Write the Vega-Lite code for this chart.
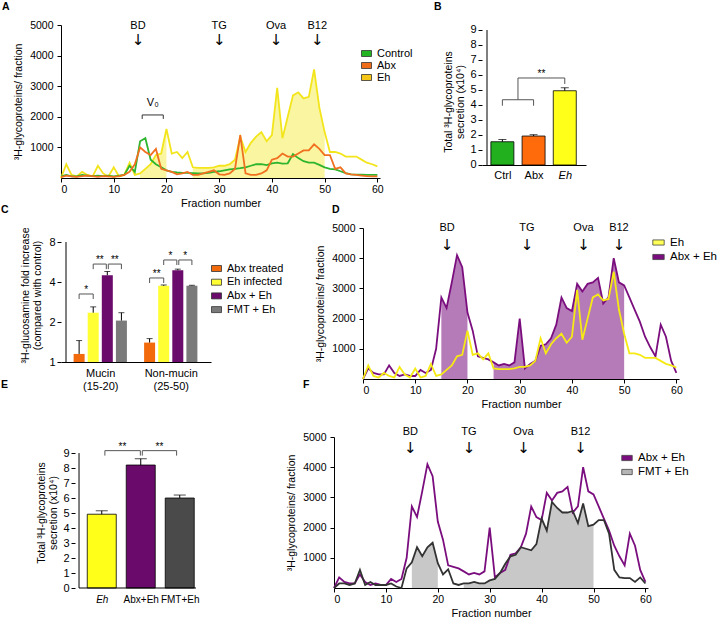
{
"$schema": "https://vega.github.io/schema/vega-lite/v6.json",
"padding": {"left": 1, "top": 2, "right": 0, "bottom": 0},
"background": "white",
"config": {
  "font": "Liberation Sans",
  "view": {"stroke": null},
  "axis": {"grid": false, "domainColor": "#000", "tickColor": "#000", "labelColor": "#000", "titleColor": "#000", "labelFontSize": 10.5, "titleFontSize": 10.5, "titleFontWeight": "normal", "tickSize": 4, "labelPadding": 2, "titlePadding": 5, "labelOverlap": false},
  "legend": {"labelFontSize": 11, "labelColor": "#000", "padding": 0, "labelOffset": 5, "rowPadding": 2},
  "title": {"fontSize": 10.5, "fontWeight": "bold", "anchor": "start", "frame": "group", "color": "#000"}
},
"datasets": {
  "prof": [
    {"f":0,"Control":50,"Abx":30,"Eh":0,"AbxEh":0,"FMTEh":0},
    {"f":1,"Control":100,"Abx":80,"Eh":450,"AbxEh":350,"FMTEh":150},
    {"f":2,"Control":50,"Abx":50,"Eh":100,"AbxEh":200,"FMTEh":150},
    {"f":3,"Control":50,"Abx":40,"Eh":50,"AbxEh":150,"FMTEh":100},
    {"f":4,"Control":100,"Abx":60,"Eh":200,"AbxEh":150,"FMTEh":150},
    {"f":5,"Control":80,"Abx":80,"Eh":100,"AbxEh":450,"FMTEh":600},
    {"f":6,"Control":60,"Abx":60,"Eh":50,"AbxEh":200,"FMTEh":100},
    {"f":7,"Control":80,"Abx":40,"Eh":400,"AbxEh":100,"FMTEh":200},
    {"f":8,"Control":60,"Abx":60,"Eh":150,"AbxEh":150,"FMTEh":100},
    {"f":9,"Control":80,"Abx":50,"Eh":50,"AbxEh":100,"FMTEh":100},
    {"f":10,"Control":50,"Abx":40,"Eh":350,"AbxEh":100,"FMTEh":100},
    {"f":11,"Control":80,"Abx":60,"Eh":50,"AbxEh":300,"FMTEh":150},
    {"f":12,"Control":100,"Abx":100,"Eh":100,"AbxEh":200,"FMTEh":50},
    {"f":13,"Control":400,"Abx":200,"Eh":500,"AbxEh":300,"FMTEh":0},
    {"f":14,"Control":200,"Abx":450,"Eh":100,"AbxEh":1000,"FMTEh":650},
    {"f":15,"Control":1200,"Abx":1000,"Eh":150,"AbxEh":2700,"FMTEh":850},
    {"f":16,"Control":1300,"Abx":850,"Eh":300,"AbxEh":2350,"FMTEh":1350},
    {"f":17,"Control":600,"Abx":750,"Eh":450,"AbxEh":3200,"FMTEh":1050},
    {"f":18,"Control":450,"Abx":950,"Eh":750,"AbxEh":4100,"FMTEh":1350},
    {"f":19,"Control":350,"Abx":300,"Eh":800,"AbxEh":3700,"FMTEh":1500},
    {"f":20,"Control":250,"Abx":250,"Eh":1600,"AbxEh":2200,"FMTEh":820},
    {"f":21,"Control":200,"Abx":200,"Eh":800,"AbxEh":1600,"FMTEh":450},
    {"f":22,"Control":180,"Abx":120,"Eh":850,"AbxEh":750,"FMTEh":620},
    {"f":23,"Control":170,"Abx":150,"Eh":650,"AbxEh":700,"FMTEh":150},
    {"f":24,"Control":170,"Abx":200,"Eh":850,"AbxEh":650,"FMTEh":100},
    {"f":25,"Control":160,"Abx":100,"Eh":350,"AbxEh":550,"FMTEh":150},
    {"f":26,"Control":150,"Abx":100,"Eh":330,"AbxEh":450,"FMTEh":150},
    {"f":27,"Control":150,"Abx":150,"Eh":330,"AbxEh":500,"FMTEh":200},
    {"f":28,"Control":170,"Abx":200,"Eh":330,"AbxEh":450,"FMTEh":150},
    {"f":29,"Control":200,"Abx":250,"Eh":350,"AbxEh":550,"FMTEh":150},
    {"f":30,"Control":220,"Abx":120,"Eh":400,"AbxEh":2000,"FMTEh":250},
    {"f":31,"Control":250,"Abx":100,"Eh":400,"AbxEh":350,"FMTEh":300},
    {"f":32,"Control":280,"Abx":150,"Eh":450,"AbxEh":500,"FMTEh":500},
    {"f":33,"Control":300,"Abx":300,"Eh":600,"AbxEh":600,"FMTEh":800},
    {"f":34,"Control":320,"Abx":1400,"Eh":1350,"AbxEh":1100,"FMTEh":1050},
    {"f":35,"Control":350,"Abx":150,"Eh":850,"AbxEh":1150,"FMTEh":1100},
    {"f":36,"Control":400,"Abx":100,"Eh":1150,"AbxEh":1350,"FMTEh":1350},
    {"f":37,"Control":450,"Abx":100,"Eh":1350,"AbxEh":1800,"FMTEh":1300},
    {"f":38,"Control":450,"Abx":150,"Eh":1500,"AbxEh":2700,"FMTEh":1250},
    {"f":39,"Control":420,"Abx":250,"Eh":1200,"AbxEh":2350,"FMTEh":1450},
    {"f":40,"Control":480,"Abx":600,"Eh":1400,"AbxEh":2250,"FMTEh":2300},
    {"f":41,"Control":500,"Abx":650,"Eh":2950,"AbxEh":3150,"FMTEh":1900},
    {"f":42,"Control":470,"Abx":800,"Eh":1300,"AbxEh":2900,"FMTEh":2850},
    {"f":43,"Control":480,"Abx":700,"Eh":2000,"AbxEh":3150,"FMTEh":2650},
    {"f":44,"Control":780,"Abx":700,"Eh":2700,"AbxEh":3200,"FMTEh":2500},
    {"f":45,"Control":650,"Abx":800,"Eh":2800,"AbxEh":3350,"FMTEh":2500},
    {"f":46,"Control":550,"Abx":900,"Eh":2600,"AbxEh":2500,"FMTEh":2550},
    {"f":47,"Control":500,"Abx":900,"Eh":2650,"AbxEh":2700,"FMTEh":2150},
    {"f":48,"Control":500,"Abx":1100,"Eh":3550,"AbxEh":4000,"FMTEh":2800},
    {"f":49,"Control":430,"Abx":950,"Eh":2300,"AbxEh":3200,"FMTEh":2050},
    {"f":50,"Control":350,"Abx":750,"Eh":1500,"AbxEh":3100,"FMTEh":2100},
    {"f":51,"Control":300,"Abx":750,"Eh":850,"AbxEh":2700,"FMTEh":2250},
    {"f":52,"Control":280,"Abx":300,"Eh":850,"AbxEh":2300,"FMTEh":2250},
    {"f":53,"Control":220,"Abx":350,"Eh":800,"AbxEh":1900,"FMTEh":1800},
    {"f":54,"Control":160,"Abx":150,"Eh":700,"AbxEh":1400,"FMTEh":600},
    {"f":55,"Control":120,"Abx":120,"Eh":700,"AbxEh":1050,"FMTEh":350},
    {"f":56,"Control":110,"Abx":100,"Eh":700,"AbxEh":750,"FMTEh":330},
    {"f":57,"Control":110,"Abx":80,"Eh":600,"AbxEh":1800,"FMTEh":330},
    {"f":58,"Control":100,"Abx":60,"Eh":500,"AbxEh":1400,"FMTEh":200},
    {"f":59,"Control":100,"Abx":50,"Eh":450,"AbxEh":600,"FMTEh":350},
    {"f":60,"Control":100,"Abx":50,"Eh":380,"AbxEh":200,"FMTEh":150}
  ],
  "annA": [{"lab": "BD", "f": 14.6, "yl": 4970, "ya": 4500}, {"lab": "TG", "f": 30, "yl": 4970, "ya": 4500}, {"lab": "Ova", "f": 40.8, "yl": 4970, "ya": 4500}, {"lab": "B12", "f": 48.6, "yl": 4970, "ya": 4500}],
  "annD": [{"lab": "BD", "f": 16.1, "yl": 5000, "ya": 4450}, {"lab": "TG", "f": 31.4, "yl": 5000, "ya": 4450}, {"lab": "Ova", "f": 42.2, "yl": 5000, "ya": 4450}, {"lab": "B12", "f": 49, "yl": 5000, "ya": 4450}],
  "annF": [{"lab": "BD", "f": 14.7, "yl": 5150, "ya": 4620}, {"lab": "TG", "f": 26, "yl": 5150, "ya": 4620}, {"lab": "Ova", "f": 36.5, "yl": 5150, "ya": 4620}, {"lab": "B12", "f": 47.5, "yl": 5150, "ya": 4620}],
  "barB": [
    {"g":"Ctrl","p":1,"v":1.55,"hi":1.7},
    {"g":"Abx","p":2,"v":1.93,"hi":2.02},
    {"g":"Eh","p":3,"v":4.95,"hi":5.15}
  ],
  "barC": [
    {"grp":"Mucin","t":"Abx treated","p":1,"v":1.15,"hi":1.45},
    {"grp":"Mucin","t":"Eh infected","p":2,"v":2.35,"hi":2.6},
    {"grp":"Mucin","t":"Abx + Eh","p":3,"v":4.5,"hi":4.8},
    {"grp":"Mucin","t":"FMT + Eh","p":4,"v":2.05,"hi":2.35},
    {"grp":"Non-mucin","t":"Abx treated","p":6,"v":1.4,"hi":1.5},
    {"grp":"Non-mucin","t":"Eh infected","p":7,"v":3.75,"hi":3.8},
    {"grp":"Non-mucin","t":"Abx + Eh","p":8,"v":4.9,"hi":5.0},
    {"grp":"Non-mucin","t":"FMT + Eh","p":9,"v":3.75,"hi":3.78}
  ],
  "barE": [
    {"g":"Eh","p":1,"v":4.92,"hi":5.15},
    {"g":"Abx+Eh","p":2,"v":8.2,"hi":8.62},
    {"g":"FMT+Eh","p":3,"v":6.0,"hi":6.2}
  ]
},
"align": "none",
"spacing": -4,
"resolve": {"scale": {"color": "independent", "fill": "independent"}},
"vconcat": [
  {
    "hconcat": [
      {
        "width": 319, "height": 153,
        "title": {"text": "A", "dx": -59, "offset": 7},
        "layer": [
          {"data": {"name": "prof"}, "transform": [{"filter": "datum.f >= 15 && datum.f <= 20"}],
           "mark": {"type": "area", "color": "#faf5a0"},
           "encoding": {
             "x": {"field": "f", "type": "quantitative", "scale": {"domain": [0, 60.5], "nice": false, "zero": false}, "axis": {"values": [0,10,20,30,40,50,60], "tickCount": 20, "labelOverlap": false, "title": "Fraction number", "titleFontSize": 11, "titlePadding": 3}},
             "y": {"field": "Eh", "type": "quantitative", "scale": {"domain": [0, 5000], "nice": false}, "axis": {"values": [1000,2000,3000,4000,5000], "tickCount": 20, "labelOverlap": false, "labelPadding": 4, "format": "d", "title": "³H-glycoproteins/ fraction", "titlePadding": 6}}
           }},
          {"data": {"name": "prof"}, "transform": [{"filter": "datum.f >= 25 && datum.f <= 50"}],
           "mark": {"type": "area", "color": "#faf5a0"},
           "encoding": {"x": {"field": "f", "type": "quantitative"}, "y": {"field": "Eh", "type": "quantitative"}}},
          {"data": {"name": "prof"}, "mark": {"type": "line", "color": "#f3e51b", "strokeWidth": 1.8},
           "encoding": {"x": {"field": "f", "type": "quantitative"}, "y": {"field": "Eh", "type": "quantitative"}}},
          {"data": {"name": "prof"}, "mark": {"type": "line", "color": "#2db52d", "strokeWidth": 1.8},
           "encoding": {"x": {"field": "f", "type": "quantitative"}, "y": {"field": "Control", "type": "quantitative"}}},
          {"data": {"name": "prof"}, "mark": {"type": "line", "color": "#f07020", "strokeWidth": 1.8},
           "encoding": {"x": {"field": "f", "type": "quantitative"}, "y": {"field": "Abx", "type": "quantitative"}}},
          {"data": {"name": "prof"}, "transform": [{"filter": "false"}], "mark": {"type": "square", "filled": true},
           "encoding": {"x": {"field": "f", "type": "quantitative"}, "y": {"field": "Eh", "type": "quantitative"},
             "fill": {"field": "series", "type": "nominal", "scale": {"domain": ["Control", "Abx", "Eh"], "range": ["#22b422", "#ef6c1a", "#f5c518"]},
               "legend": {"title": null, "orient": "none", "legendX": 300, "legendY": 23, "symbolType": "M-1,-0.6H1V0.6H-1Z", "symbolSize": 100, "symbolStrokeColor": "#333", "symbolStrokeWidth": 0.8, "symbolOpacity": 1, "rowPadding": 0,
                 "encode": {"labels": {"fontStyle": {"condition": {"test": "datum.value === 'Eh'", "value": "italic"}, "value": "normal"}}}}}}},
          {"data": {"values": [{"x": 15.4, "x2": 19.4, "y": 2060, "y2": 2060}, {"x": 15.4, "x2": 15.4, "y": 1930, "y2": 2060}, {"x": 19.4, "x2": 19.4, "y": 1930, "y2": 2060}]},
           "mark": {"type": "rule", "color": "#333", "strokeWidth": 1},
           "encoding": {"x": {"field": "x", "type": "quantitative"}, "x2": {"field": "x2"}, "y": {"field": "y", "type": "quantitative"}, "y2": {"field": "y2"}}},
          {"data": {"values": [{"t": "V₀", "x": 17.4, "y": 2450}]},
           "mark": {"type": "text", "fontSize": 11, "color": "#000"},
           "encoding": {"x": {"field": "x", "type": "quantitative"}, "y": {"field": "y", "type": "quantitative"}, "text": {"field": "t"}}},
          {"data": {"name": "annA"},
           "mark": {"type": "text", "fontSize": 11, "color": "#000"}, "encoding": {"x": {"field": "f", "type": "quantitative"}, "y": {"field": "yl", "type": "quantitative"}, "text": {"field": "lab"}}},
          {"data": {"name": "annA"},
           "mark": {"type": "text", "fontSize": 15, "font": "DejaVu Sans", "color": "#000"}, "encoding": {"x": {"field": "f", "type": "quantitative"}, "y": {"field": "ya", "type": "quantitative"}, "text": {"value": "↓"}}}
        ]
      },
      {
        "width": 104, "height": 153,
        "title": {"text": "B", "dx": -48, "offset": 7},
        "data": {"name": "barB"},
        "layer": [
          {"mark": {"type": "bar", "size": 23, "stroke": "#000", "strokeWidth": 0.8},
           "encoding": {
             "x": {"field": "p", "type": "quantitative", "scale": {"domain": [0.507, 3.52], "nice": false, "zero": false}, "axis": {"values": [1, 2, 3], "tickCount": 20, "offset": -13, "labelOverlap": false, "labelExpr": "datum.value == 1 ? 'Ctrl' : datum.value == 2 ? 'Abx' : 'Eh'", "labelFontStyle": {"condition": {"test": "datum.value == 3", "value": "italic"}, "value": "normal"}, "ticks": false, "title": null, "labelFontSize": 11, "labelPadding": 4}},
             "y": {"field": "v", "type": "quantitative", "scale": {"domain": [-0.867, 9.333], "nice": false, "zero": false}, "axis": {"values": [0,1,2,3,4,5,6,7,8,9], "format": "d", "tickCount": 20, "labelOverlap": false, "labelFontSize": 11, "domain": false, "title": ["Total ³H-glycoproteins", "secretion (x10⁴)"], "titlePadding": 4}},
             "y2": {"datum": 0},
             "color": {"field": "g", "type": "nominal", "scale": {"domain": ["Ctrl", "Abx", "Eh"], "range": ["#22b01f", "#ff6a0a", "#ffff1a"]}, "legend": null}
           }},
          {"mark": {"type": "rule", "color": "#000"},
           "encoding": {"x": {"field": "p", "type": "quantitative"}, "y": {"field": "v", "type": "quantitative"}, "y2": {"field": "hi"}}},
          {"mark": {"type": "tick", "orient": "horizontal", "size": 8, "thickness": 1, "color": "#000"},
           "encoding": {"x": {"field": "p", "type": "quantitative"}, "y": {"field": "hi", "type": "quantitative"}}},
          {"data": {"values": [{"x": 0.507, "x2": 0.507, "y": 0, "y2": 9}]},
           "mark": {"type": "rule", "color": "#000", "strokeWidth": 1},
           "encoding": {"x": {"field": "x", "type": "quantitative"}, "x2": {"field": "x2"}, "y": {"field": "y", "type": "quantitative"}, "y2": {"field": "y2"}}},
          {"data": {"values": [{"x": 1, "x2": 2, "y": 4.35, "y2": 4.35}, {"x": 1, "x2": 1, "y": 3.95, "y2": 4.35}, {"x": 2, "x2": 2, "y": 3.95, "y2": 4.35}, {"x": 1.5, "x2": 1.5, "y": 4.35, "y2": 5.8}, {"x": 1.5, "x2": 3, "y": 5.8, "y2": 5.8}, {"x": 3, "x2": 3, "y": 5.4, "y2": 5.8}]},
           "mark": {"type": "rule", "color": "#555", "strokeWidth": 1},
           "encoding": {"x": {"field": "x", "type": "quantitative"}, "x2": {"field": "x2"}, "y": {"field": "y", "type": "quantitative"}, "y2": {"field": "y2"}}},
          {"data": {"values": [{"t": "**", "x": 2.25, "y": 5.8}]},
           "mark": {"type": "text", "fontSize": 10, "dy": -1, "baseline": "alphabetic", "color": "#000"},
           "encoding": {"x": {"field": "x", "type": "quantitative"}, "y": {"field": "y", "type": "quantitative"}, "text": {"field": "t"}}},
          {"data": {"values": [{"t": "BD", "x": 2, "y": 9.27}]},
           "mark": {"type": "text", "fontSize": 11, "opacity": 0},
           "encoding": {"x": {"field": "x", "type": "quantitative"}, "y": {"field": "y", "type": "quantitative"}, "text": {"field": "t"}}}
        ]
      }
    ],
    "spacing": 21, "align": "none",
    "resolve": {"scale": {"color": "independent", "fill": "independent"}}
  },
  {
    "vconcat": [
  {
    "hconcat": [
      {
        "width": 150, "height": 134,
        "title": {"text": "C", "dx": -60, "offset": 6.5},
        "data": {"name": "barC"},
        "layer": [
          {"mark": {"type": "bar", "size": 11},
           "encoding": {
             "x": {"field": "p", "type": "quantitative", "scale": {"domain": [0.07, 10], "nice": false, "zero": false}, "axis": {"values": [2.5, 7.5], "tickCount": 20, "labelOverlap": false, "labelExpr": "datum.value < 5 ? ['Mucin', '(15-20)'] : ['Non-mucin', '(25-50)']", "ticks": false, "title": null, "labelFontSize": 11, "labelPadding": 5}},
             "y": {"field": "v", "type": "quantitative", "scale": {"type": "log", "base": 2, "domain": [1, 10.2], "nice": false}, "axis": {"values": [1, 2, 4, 8], "tickCount": 20, "labelOverlap": false, "labelFontSize": 11, "format": "d", "domain": false, "title": ["³H-glucosamine fold increase", "(compared with control)"], "titlePadding": 6}},
             "y2": {"datum": 1},
             "color": {"field": "t", "type": "nominal", "scale": {"domain": ["Abx treated", "Eh infected", "Abx + Eh", "FMT + Eh"], "range": ["#f26a0c", "#ffff33", "#6b0b6b", "#7a7a7a"]},
               "legend": {"title": null, "orient": "none", "legendX": 150, "legendY": 35, "symbolType": "M-1,-0.6H1V0.6H-1Z", "symbolSize": 100, "symbolStrokeColor": "#333", "symbolStrokeWidth": 0.8, "symbolOpacity": 1, "rowPadding": 1.7}}
           }},
          {"mark": {"type": "rule", "color": "#000"},
           "encoding": {"x": {"field": "p", "type": "quantitative"}, "y": {"field": "v", "type": "quantitative"}, "y2": {"field": "hi"}}},
          {"mark": {"type": "tick", "orient": "horizontal", "size": 6, "thickness": 1, "color": "#000"},
           "encoding": {"x": {"field": "p", "type": "quantitative"}, "y": {"field": "hi", "type": "quantitative"}}},
          {"data": {"values": [{"x": 0.07, "x2": 0.07, "y": 1, "y2": 8}]},
           "mark": {"type": "rule", "color": "#000", "strokeWidth": 1},
           "encoding": {"x": {"field": "x", "type": "quantitative"}, "x2": {"field": "x2"}, "y": {"field": "y", "type": "quantitative"}, "y2": {"field": "y2"}}},
          {"data": {"values": [
              {"x": 1, "x2": 2, "y": 3.25, "y2": 3.25}, {"x": 1, "x2": 1, "y": 2.98, "y2": 3.25}, {"x": 2, "x2": 2, "y": 2.98, "y2": 3.25},
              {"x": 2, "x2": 2.93, "y": 5.46, "y2": 5.46}, {"x": 2, "x2": 2, "y": 5.0, "y2": 5.46}, {"x": 2.93, "x2": 2.93, "y": 5.0, "y2": 5.46},
              {"x": 3.07, "x2": 4, "y": 5.46, "y2": 5.46}, {"x": 3.07, "x2": 3.07, "y": 5.0, "y2": 5.46}, {"x": 4, "x2": 4, "y": 5.0, "y2": 5.46},
              {"x": 6, "x2": 7, "y": 4.29, "y2": 4.29}, {"x": 6, "x2": 6, "y": 3.93, "y2": 4.29}, {"x": 7, "x2": 7, "y": 3.93, "y2": 4.29},
              {"x": 7, "x2": 7.93, "y": 5.86, "y2": 5.86}, {"x": 7, "x2": 7, "y": 5.37, "y2": 5.86}, {"x": 7.93, "x2": 7.93, "y": 5.37, "y2": 5.86},
              {"x": 8.07, "x2": 9, "y": 5.86, "y2": 5.86}, {"x": 8.07, "x2": 8.07, "y": 5.37, "y2": 5.86}, {"x": 9, "x2": 9, "y": 5.37, "y2": 5.86}
            ]},
           "mark": {"type": "rule", "color": "#555", "strokeWidth": 1},
           "encoding": {"x": {"field": "x", "type": "quantitative"}, "x2": {"field": "x2"}, "y": {"field": "y", "type": "quantitative"}, "y2": {"field": "y2"}}},
          {"data": {"values": [{"t": "*", "x": 1.5, "y": 3.25}, {"t": "**", "x": 2.47, "y": 5.46}, {"t": "**", "x": 3.53, "y": 5.46}, {"t": "**", "x": 6.5, "y": 4.29}, {"t": "*", "x": 7.47, "y": 5.86}, {"t": "*", "x": 8.53, "y": 5.86}]},
           "mark": {"type": "text", "fontSize": 10, "dy": -1, "baseline": "alphabetic", "color": "#000"},
           "encoding": {"x": {"field": "x", "type": "quantitative"}, "y": {"field": "y", "type": "quantitative"}, "text": {"field": "t"}}},
          {"data": {"values": [{"t": "BD", "x": 5, "y": 10.2}]},
           "mark": {"type": "text", "fontSize": 11, "opacity": 0},
           "encoding": {"x": {"field": "x", "type": "quantitative"}, "y": {"field": "y", "type": "quantitative"}, "text": {"field": "t"}}}
        ]
      },
      {
        "width": 316, "height": 151,
        "title": {"text": "D", "dx": -31, "offset": 6.5},
        "layer": [
          {"data": {"name": "prof"}, "transform": [{"filter": "datum.f >= 15 && datum.f <= 20"}],
           "mark": {"type": "area", "color": "#b57ab8"},
           "encoding": {
             "x": {"field": "f", "type": "quantitative", "scale": {"domain": [0, 60.5], "nice": false, "zero": false}, "axis": {"values": [0,10,20,30,40,50,60], "tickCount": 20, "labelOverlap": false, "title": "Fraction number", "titleFontSize": 11, "titlePadding": 3}},
             "y": {"field": "AbxEh", "type": "quantitative", "scale": {"domain": [0, 5000], "nice": false}, "axis": {"values": [1000,2000,3000,4000,5000], "tickCount": 20, "labelOverlap": false, "labelPadding": 4, "format": "d", "title": "³H-glycoproteins/ fraction", "titlePadding": 6}}
           }},
          {"data": {"name": "prof"}, "transform": [{"filter": "datum.f >= 25 && datum.f <= 50"}],
           "mark": {"type": "area", "color": "#b57ab8"},
           "encoding": {"x": {"field": "f", "type": "quantitative"}, "y": {"field": "AbxEh", "type": "quantitative"}}},
          {"data": {"name": "prof"}, "mark": {"type": "line", "color": "#7b0e7e", "strokeWidth": 1.8},
           "encoding": {"x": {"field": "f", "type": "quantitative"}, "y": {"field": "AbxEh", "type": "quantitative"}}},
          {"data": {"name": "prof"}, "mark": {"type": "line", "color": "#f5ea14", "strokeWidth": 1.8},
           "encoding": {"x": {"field": "f", "type": "quantitative"}, "y": {"field": "Eh", "type": "quantitative"}}},
          {"data": {"name": "prof"}, "transform": [{"filter": "false"}], "mark": {"type": "square", "filled": true},
           "encoding": {"x": {"field": "f", "type": "quantitative"}, "y": {"field": "Eh", "type": "quantitative"},
             "fill": {"field": "series", "type": "nominal", "scale": {"domain": ["Eh", "Abx + Eh"], "range": ["#ffff55", "#7b0e7e"]},
               "legend": {"title": null, "orient": "none", "legendX": 289, "legendY": 8, "symbolType": "M-1,-0.45H1V0.45H-1Z", "symbolSize": 130, "symbolStrokeColor": "#444", "symbolStrokeWidth": 0.8, "symbolOpacity": 1, "rowPadding": 2.5, "labelFontSize": 11.5,
                 "encode": {"labels": {"fontStyle": {"condition": {"test": "datum.value === 'Eh'", "value": "italic"}, "value": "normal"}}}}}}},
          {"data": {"name": "annD"},
           "mark": {"type": "text", "fontSize": 11, "color": "#000"}, "encoding": {"x": {"field": "f", "type": "quantitative"}, "y": {"field": "yl", "type": "quantitative"}, "text": {"field": "lab"}}},
          {"data": {"name": "annD"},
           "mark": {"type": "text", "fontSize": 15, "font": "DejaVu Sans", "color": "#000"}, "encoding": {"x": {"field": "f", "type": "quantitative"}, "y": {"field": "ya", "type": "quantitative"}, "text": {"value": "↓"}}}
        ]
      }
    ],
    "spacing": 31, "align": "none",
    "resolve": {"scale": {"color": "independent", "fill": "independent"}}
  },
  {
    "hconcat": [
      {
        "width": 140, "height": 151,
        "title": {"text": "E", "dx": -60, "dy": -27, "offset": 9},
        "data": {"name": "barE"},
        "layer": [
          {"mark": {"type": "bar", "size": 29, "stroke": "#000", "strokeWidth": 0.8},
           "encoding": {
             "x": {"field": "p", "type": "quantitative", "scale": {"domain": [0.083, 3.417], "nice": false, "zero": false}, "axis": {"values": [1, 2, 3], "tickCount": 20, "labelOverlap": false, "labelExpr": "datum.value == 1 ? 'Eh' : datum.value == 2 ? 'Abx+Eh' : 'FMT+Eh'", "labelFontStyle": {"condition": {"test": "datum.value == 1", "value": "italic"}, "value": "normal"}, "ticks": false, "domain": false, "title": null, "labelFontSize": 10, "labelPadding": 6}},
             "y": {"field": "v", "type": "quantitative", "scale": {"domain": [0, 10.07], "nice": false}, "axis": {"values": [0,1,2,3,4,5,6,7,8,9], "format": "d", "tickCount": 20, "labelOverlap": false, "labelFontSize": 11, "domain": false, "offset": -14, "title": ["Total ³H-glycoproteins", "secretion (x10⁴)"], "titlePadding": 4}},
             "color": {"field": "g", "type": "nominal", "scale": {"domain": ["Eh", "Abx+Eh", "FMT+Eh"], "range": ["#ffff1a", "#6a0a6a", "#4a4a4a"]}, "legend": null}
           }},
          {"mark": {"type": "rule", "color": "#000"},
           "encoding": {"x": {"field": "p", "type": "quantitative"}, "y": {"field": "v", "type": "quantitative"}, "y2": {"field": "hi"}}},
          {"mark": {"type": "tick", "orient": "horizontal", "size": 12, "thickness": 1, "color": "#000"},
           "encoding": {"x": {"field": "p", "type": "quantitative"}, "y": {"field": "hi", "type": "quantitative"}}},
          {"data": {"values": [{"x": 0.417, "x2": 3.417, "y": 0, "y2": 0}, {"x": 0.417, "x2": 0.417, "y": 0, "y2": 9}]},
           "mark": {"type": "rule", "color": "#000", "strokeWidth": 1},
           "encoding": {"x": {"field": "x", "type": "quantitative"}, "x2": {"field": "x2"}, "y": {"field": "y", "type": "quantitative"}, "y2": {"field": "y2"}}},
          {"data": {"values": [{"x": 1.08, "x2": 1.99, "y": 9.16, "y2": 9.16}, {"x": 1.08, "x2": 1.08, "y": 8.83, "y2": 9.16}, {"x": 1.99, "x2": 1.99, "y": 8.83, "y2": 9.16}, {"x": 2.04, "x2": 2.92, "y": 9.16, "y2": 9.16}, {"x": 2.04, "x2": 2.04, "y": 8.83, "y2": 9.16}, {"x": 2.92, "x2": 2.92, "y": 8.83, "y2": 9.16}]},
           "mark": {"type": "rule", "color": "#555", "strokeWidth": 1},
           "encoding": {"x": {"field": "x", "type": "quantitative"}, "x2": {"field": "x2"}, "y": {"field": "y", "type": "quantitative"}, "y2": {"field": "y2"}}},
          {"data": {"values": [{"t": "**", "x": 1.53, "y": 9.16}, {"t": "**", "x": 2.48, "y": 9.16}]},
           "mark": {"type": "text", "fontSize": 10, "dy": -1, "baseline": "alphabetic", "color": "#000"},
           "encoding": {"x": {"field": "x", "type": "quantitative"}, "y": {"field": "y", "type": "quantitative"}, "text": {"field": "t"}}},
          {"data": {"values": [{"t": "BD", "x": 2, "y": 10.37}]},
           "mark": {"type": "text", "fontSize": 11, "opacity": 0},
           "encoding": {"x": {"field": "x", "type": "quantitative"}, "y": {"field": "y", "type": "quantitative"}, "text": {"field": "t"}}}
        ]
      },
      {
        "width": 314, "height": 151,
        "title": {"text": "F", "dx": -31, "dy": -27, "offset": 9},
        "layer": [
          {"data": {"name": "prof"}, "transform": [{"filter": "datum.f >= 15 && datum.f <= 20"}],
           "mark": {"type": "area", "color": "#c8c8c8"},
           "encoding": {
             "x": {"field": "f", "type": "quantitative", "scale": {"domain": [0, 60.5], "nice": false, "zero": false}, "axis": {"values": [0,10,20,30,40,50,60], "tickCount": 20, "labelOverlap": false, "title": "Fraction number", "titleFontSize": 11, "titlePadding": 3}},
             "y": {"field": "FMTEh", "type": "quantitative", "scale": {"domain": [0, 5000], "nice": false}, "axis": {"values": [1000,2000,3000,4000,5000], "tickCount": 20, "labelOverlap": false, "labelPadding": 4, "format": "d", "title": "³H-glycoproteins/ fraction", "titlePadding": 6}}
           }},
          {"data": {"name": "prof"}, "transform": [{"filter": "datum.f >= 25 && datum.f <= 50"}],
           "mark": {"type": "area", "color": "#c8c8c8"},
           "encoding": {"x": {"field": "f", "type": "quantitative"}, "y": {"field": "FMTEh", "type": "quantitative"}}},
          {"data": {"name": "prof"}, "mark": {"type": "line", "color": "#7b0e7e", "strokeWidth": 1.8},
           "encoding": {"x": {"field": "f", "type": "quantitative"}, "y": {"field": "AbxEh", "type": "quantitative"}}},
          {"data": {"name": "prof"}, "mark": {"type": "line", "color": "#333333", "strokeWidth": 1.8},
           "encoding": {"x": {"field": "f", "type": "quantitative"}, "y": {"field": "FMTEh", "type": "quantitative"}}},
          {"data": {"name": "prof"}, "transform": [{"filter": "false"}], "mark": {"type": "square", "filled": true},
           "encoding": {"x": {"field": "f", "type": "quantitative"}, "y": {"field": "Eh", "type": "quantitative"},
             "fill": {"field": "series", "type": "nominal", "scale": {"domain": ["Abx + Eh", "FMT + Eh"], "range": ["#7b0e7e", "#b5b5b5"]},
               "legend": {"title": null, "orient": "none", "legendX": 287, "legendY": 15, "symbolType": "M-1,-0.5H1V0.5H-1Z", "symbolSize": 110, "symbolStrokeColor": "#444", "symbolStrokeWidth": 0.8, "symbolOpacity": 1, "rowPadding": 2, "labelFontSize": 11.5}}}},
          {"data": {"name": "annF"},
           "mark": {"type": "text", "fontSize": 11, "color": "#000"}, "encoding": {"x": {"field": "f", "type": "quantitative"}, "y": {"field": "yl", "type": "quantitative"}, "text": {"field": "lab"}}},
          {"data": {"name": "annF"},
           "mark": {"type": "text", "fontSize": 15, "font": "DejaVu Sans", "color": "#000"}, "encoding": {"x": {"field": "f", "type": "quantitative"}, "y": {"field": "ya", "type": "quantitative"}, "text": {"value": "↓"}}}
        ]
      }
    ],
    "spacing": 85, "align": "none",
    "resolve": {"scale": {"color": "independent", "fill": "independent"}}
  }
    ],
    "spacing": -31, "align": "none",
    "resolve": {"scale": {"color": "independent", "fill": "independent"}}
  }
]
}
